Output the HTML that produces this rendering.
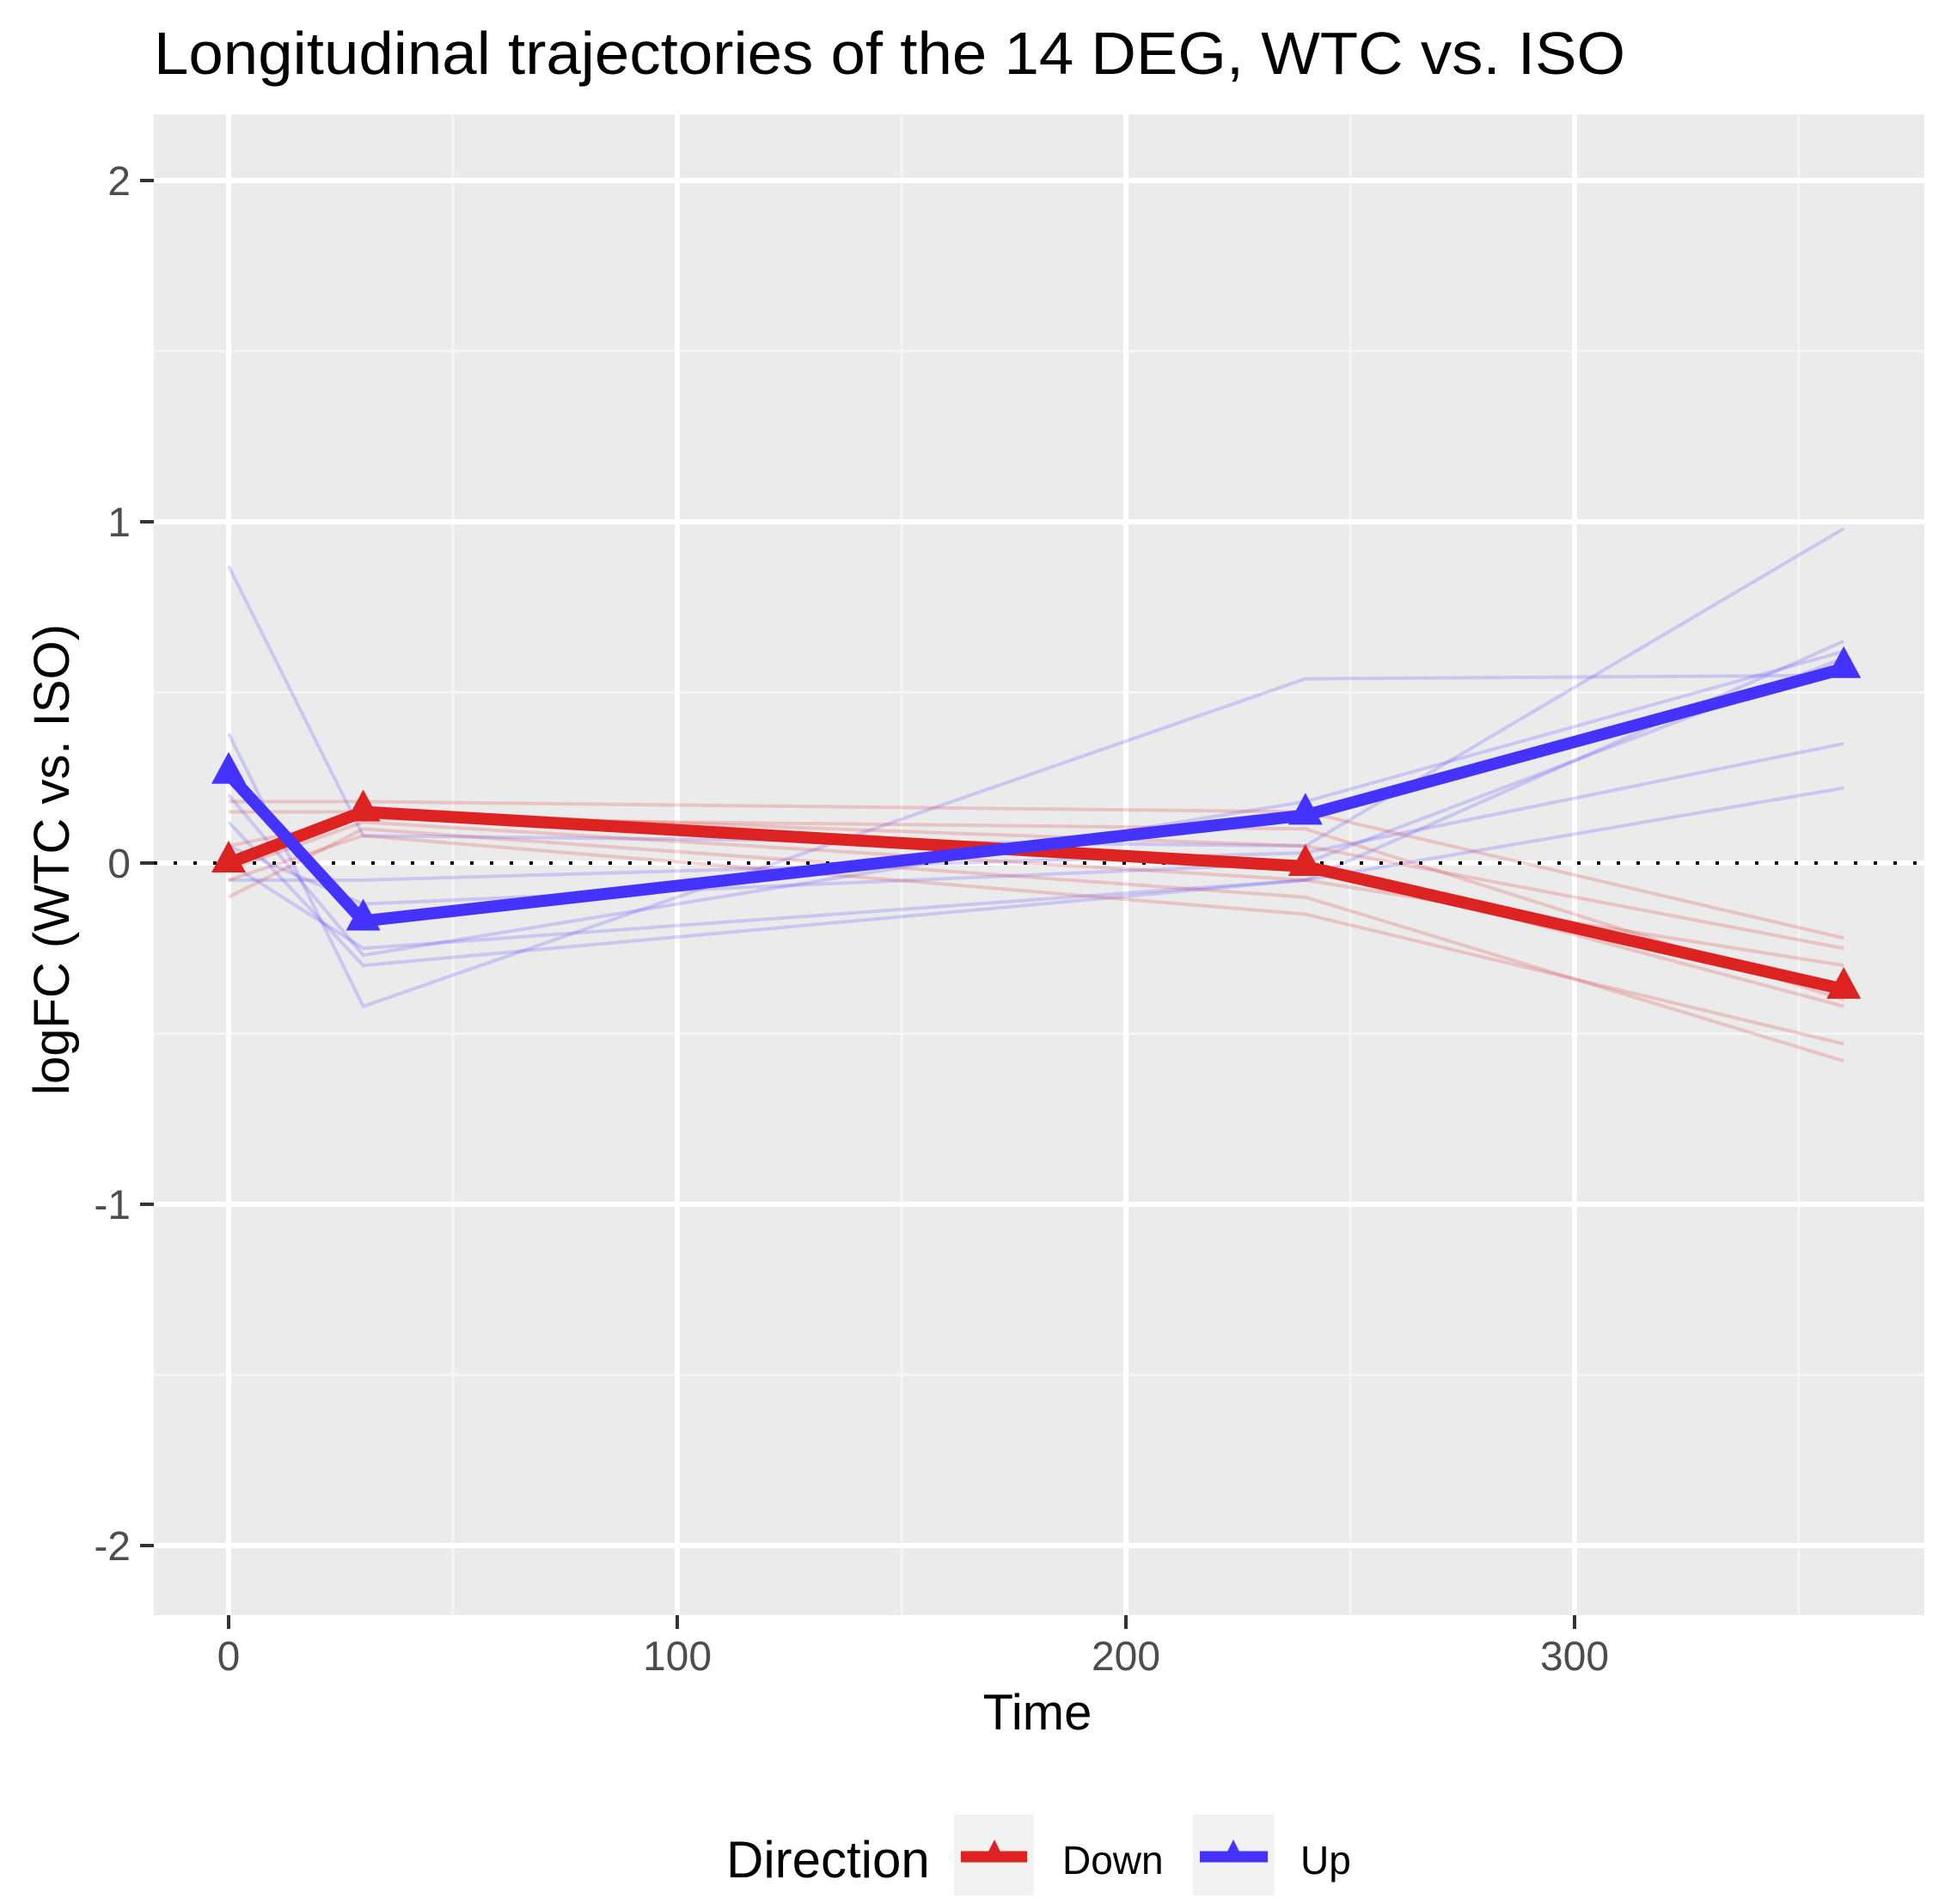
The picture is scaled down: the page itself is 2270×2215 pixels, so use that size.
<!DOCTYPE html>
<html><head><meta charset="utf-8"><style>
html,body{margin:0;padding:0;background:#fff;}
svg{display:block;font-family:"Liberation Sans",sans-serif;}
</style></head><body>
<svg id="chart" width="2270" height="2215" viewBox="0 0 2270 2215" xmlns="http://www.w3.org/2000/svg">
<rect width="2270" height="2215" fill="#fff"/>
<text x="179" y="86" font-size="70" fill="#000" textLength="1712" lengthAdjust="spacingAndGlyphs">Longitudinal trajectories of the 14 DEG, WTC vs. ISO</text>
<rect x="179" y="133" width="2060" height="1746" fill="#ebebeb"/>
<g id="grid"></g>
<g id="axes"></g>
<g id="series"></g>
<text x="1207" y="2012" font-size="58" text-anchor="middle" fill="#000">Time</text>
<text transform="translate(80,1000) rotate(-90)" font-size="58" text-anchor="middle" fill="#000">logFC (WTC vs. ISO)</text>
<g>
<text x="845" y="2184" font-size="60" fill="#000">Direction</text>
<g>
<rect x="1110" y="2111" width="93" height="94" fill="#f2f2f2"/>
<line x1="1118" y1="2160" x2="1195" y2="2160" stroke="#dd2222" stroke-width="13"/>
<polygon points="1157,2140 1145,2164 1169,2164" fill="#dd2222"/>
<text x="1236" y="2180" font-size="46" fill="#000">Down</text>
</g>
<g>
<rect x="1388" y="2111" width="95" height="94" fill="#f2f2f2"/>
<line x1="1396" y1="2160" x2="1475" y2="2160" stroke="#4433ff" stroke-width="13"/>
<polygon points="1435,2140 1423,2164 1447,2164" fill="#4433ff"/>
<text x="1513" y="2180" font-size="46" fill="#000">Up</text>
</g>
</g>
</svg>
<script>
const times = [0, 30, 240, 360];
const upGenes = [
  [0.87, 0.08, 0.05, 0.98],
  [0.38, -0.42, 0.54, 0.55],
  [0.12, -0.30, -0.05, 0.65],
  [0.20, -0.27, 0.18, 0.62],
  [-0.05, -0.05, 0.03, 0.35],
  [0.00, -0.25, -0.05, 0.22],
  [0.05, -0.12, 0.00, 0.60]
];
const downGenes = [
  [0.18, 0.18, 0.15, -0.22],
  [0.15, 0.15, 0.05, -0.25],
  [-0.02, 0.12, -0.05, -0.30],
  [-0.10, 0.10, -0.10, -0.58],
  [-0.05, 0.08, -0.15, -0.53],
  [0.05, 0.13, 0.10, -0.40],
  [0.00, 0.15, 0.00, -0.42]
];
const upMean = [0.26, -0.17, 0.14, 0.57];
const downMean = [0.00, 0.15, -0.01, -0.37];
const xTicks = [0, 100, 200, 300];
const xMinor = [50, 150, 250, 350];
const yTicks = [-2, -1, 0, 1, 2];
const yMinor = [-1.5, -0.5, 0.5, 1.5];

const NS = "http://www.w3.org/2000/svg";
function X(t){ return 266 + t * 5.22; }
function Y(v){ return 1004 - v * 397; }
function mk(tag, attrs, parent){
  const e = document.createElementNS(NS, tag);
  for (const k in attrs) e.setAttribute(k, attrs[k]);
  parent.appendChild(e);
  return e;
}
const grid = document.getElementById('grid');
const axes = document.getElementById('axes');
const series = document.getElementById('series');

yMinor.forEach(v => {
  const l = mk('line', {x1:179, x2:2239, y1:Y(v), y2:Y(v), stroke:'#f5f5f5', 'stroke-width':3}, grid);
  
  
});
xMinor.forEach(t => {
  const l = mk('line', {x1:X(t), x2:X(t), y1:133, y2:1879, stroke:'#f5f5f5', 'stroke-width':3}, grid);
  
  
});
yTicks.forEach(v => {
  const l = mk('line', {x1:179, x2:2239, y1:Y(v), y2:Y(v), stroke:'#fff', 'stroke-width':6}, grid);
  
  
  const tk = mk('line', {x1:163, x2:179, y1:Y(v), y2:Y(v), stroke:'#333', 'stroke-width':4}, axes);
  
  
  const tx = mk('text', {x:152, y:Y(v)+17, 'font-size':48, 'text-anchor':'end', fill:'#4d4d4d'}, axes);
  tx.textContent = String(v);
  
  
});
xTicks.forEach(t => {
  const l = mk('line', {x1:X(t), x2:X(t), y1:133, y2:1879, stroke:'#fff', 'stroke-width':6}, grid);
  
  
  const tk = mk('line', {x1:X(t), x2:X(t), y1:1879, y2:1895, stroke:'#333', 'stroke-width':4}, axes);
  
  
  const tx = mk('text', {x:X(t), y:1943, 'font-size':48, 'text-anchor':'middle', fill:'#4d4d4d'}, axes);
  tx.textContent = String(t);
  
  
});

function pts(vals){ return vals.map((v,i) => X(times[i]) + ',' + Y(v)).join(' '); }

upGenes.forEach(g => {
  const p = mk('polyline', {points:pts(g), fill:'none', stroke:'#4433ff', 'stroke-opacity':0.2, 'stroke-width':4}, series);
  
  
});
downGenes.forEach(g => {
  const p = mk('polyline', {points:pts(g), fill:'none', stroke:'#dd2222', 'stroke-opacity':0.2, 'stroke-width':4}, series);
  
  
});

const zl = mk('line', {x1:179, x2:2239, y1:Y(0), y2:Y(0), stroke:'#000', 'stroke-width':4, 'stroke-dasharray':'4 19'}, series);



function meanLine(vals, color, name){
  const p = mk('polyline', {points:pts(vals), fill:'none', stroke:color, 'stroke-width':14, 'stroke-linejoin':'round'}, series);
  
  
  vals.forEach((v,i) => {
    const x = X(times[i]), y = Y(v);
    const t = mk('polygon', {points:`${x},${y-26} ${x-20},${y+11} ${x+20},${y+11}`, fill:color}, series);
    
    
  });
}
meanLine(downMean, '#dd2222', 'down');
meanLine(upMean, '#4433ff', 'up');
</script>
</body></html>
